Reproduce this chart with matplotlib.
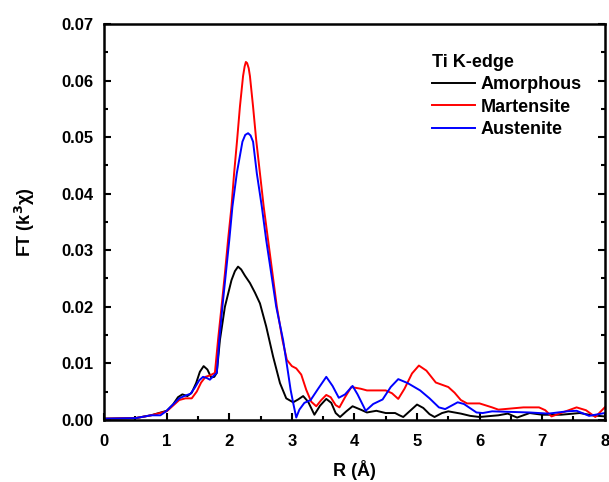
import numpy as np
import matplotlib
matplotlib.use("Agg")
from matplotlib import pyplot as plt
from matplotlib.ticker import MultipleLocator, FormatStrFormatter

# Ti K-edge FT data
r_amorph = [0.0, 0.5, 0.75, 1.0, 1.1, 1.18, 1.25, 1.33, 1.4, 1.47, 1.53, 1.59, 1.65, 1.71,
            1.76, 1.80, 1.85, 1.93, 2.035, 2.09, 2.14, 2.19, 2.25, 2.33, 2.41, 2.49, 2.59,
            2.70, 2.81, 2.91, 3.02, 3.1, 3.18, 3.26, 3.36, 3.45, 3.55, 3.63, 3.70, 3.77,
            3.87, 3.97, 4.1, 4.2, 4.35, 4.5, 4.65, 4.72, 4.78, 4.88, 5.0, 5.1, 5.2, 5.28,
            5.4, 5.5, 5.7, 5.85, 6.0, 6.3, 6.45, 6.6, 6.8, 7.0, 7.3, 7.6, 7.8, 8.0]
ft_amorph = [0.0002, 0.0003, 0.0008, 0.0016, 0.0027, 0.0040, 0.0045, 0.0042, 0.0048, 0.0065,
             0.0085, 0.0095, 0.0089, 0.0075, 0.0076, 0.0083, 0.0141, 0.0200, 0.0247, 0.0263,
             0.0271, 0.0266, 0.0255, 0.0242, 0.0225, 0.0206, 0.0165, 0.0112, 0.0065, 0.0038,
             0.0031, 0.0036, 0.0042, 0.0032, 0.0009, 0.0025, 0.0037, 0.0030, 0.0012, 0.0005,
             0.0015, 0.0024, 0.0018, 0.0013, 0.0016, 0.0012, 0.0012, 0.0008, 0.0005, 0.0015,
             0.0027, 0.0021, 0.0010, 0.0005, 0.0012, 0.0015, 0.0011, 0.0007, 0.0005, 0.0008,
             0.0011, 0.0004, 0.0012, 0.0009, 0.0009, 0.0012, 0.0008, 0.0006]

r_mart = [0.0, 0.5, 0.75, 1.0, 1.1, 1.2, 1.3, 1.4, 1.48, 1.55, 1.62, 1.7, 1.77, 1.82, 1.876,
          1.93, 1.98, 2.035, 2.077, 2.125, 2.17, 2.22, 2.245, 2.265, 2.285, 2.31, 2.33, 2.38,
          2.43, 2.49, 2.55, 2.62, 2.69, 2.76, 2.85, 2.92, 3.0, 3.07, 3.15, 3.23, 3.31, 3.39,
          3.47, 3.55, 3.62, 3.70, 3.76, 3.85, 3.95, 4.1, 4.2, 4.5, 4.6, 4.7, 4.8, 4.92,
          5.03, 5.15, 5.3, 5.5, 5.6, 5.7, 5.8, 6.0, 6.2, 6.3, 6.5, 6.7, 6.95, 7.05, 7.15,
          7.3, 7.55, 7.7, 7.85, 8.0]
ft_mart = [0.0002, 0.0003, 0.0008, 0.0015, 0.0025, 0.0035, 0.0038, 0.0038, 0.0050, 0.0066,
           0.0076, 0.0079, 0.0083, 0.0141, 0.0200, 0.0259, 0.0318, 0.0377, 0.0436, 0.0495,
           0.0554, 0.0608, 0.0625, 0.0633, 0.0631, 0.0622, 0.0608, 0.0554, 0.0495, 0.0436,
           0.0377, 0.0318, 0.0259, 0.0200, 0.0141, 0.0106, 0.0095, 0.0091, 0.0080, 0.0053,
           0.0032, 0.0024, 0.0035, 0.0044, 0.0040, 0.0026, 0.0022, 0.0040, 0.0058, 0.0055,
           0.0052, 0.0052, 0.0047, 0.0037, 0.0055, 0.0082, 0.0096, 0.0087, 0.0066, 0.0058,
           0.0048, 0.0035, 0.0029, 0.0029, 0.0022, 0.0018, 0.0020, 0.0022, 0.0022, 0.0017,
           0.0006, 0.0012, 0.0022, 0.0017, 0.0005, 0.0022]

r_aust = [0.0, 0.5, 0.75, 0.9, 1.0, 1.1, 1.2, 1.3, 1.38, 1.45, 1.52, 1.58, 1.64, 1.69, 1.75,
          1.80, 1.84, 1.89, 1.945, 2.0, 2.05, 2.12, 2.21, 2.255, 2.30, 2.34, 2.38, 2.44,
          2.52, 2.59, 2.67, 2.75, 2.86, 2.94, 2.98, 3.03, 3.07, 3.12, 3.2, 3.3, 3.42, 3.55,
          3.65, 3.75, 3.85, 3.97, 4.05, 4.18, 4.3, 4.45, 4.58, 4.7, 4.85, 5.05, 5.2, 5.35,
          5.45, 5.65, 5.75, 5.95, 6.05, 6.2, 6.5, 6.8, 7.1, 7.4, 7.55, 7.75, 8.0]
ft_aust = [0.0002, 0.0003, 0.0008, 0.0008, 0.0016, 0.0027, 0.0038, 0.0043, 0.0046, 0.0057,
           0.0070, 0.0076, 0.0074, 0.0071, 0.0078, 0.0083, 0.0141, 0.0200, 0.0259, 0.0318,
           0.0377, 0.0436, 0.0492, 0.0504, 0.0507, 0.0503, 0.0492, 0.0436, 0.0377, 0.0318,
           0.0259, 0.0200, 0.0141, 0.0083, 0.0053, 0.0025, 0.0004, 0.0018, 0.0030, 0.0035,
           0.0055, 0.0076, 0.0060, 0.0039, 0.0045, 0.0060, 0.0045, 0.0016, 0.0028, 0.0036,
           0.0058, 0.0072, 0.0065, 0.0052, 0.0038, 0.0022, 0.0019, 0.0031, 0.0028, 0.0013,
           0.0012, 0.0015, 0.0014, 0.0013, 0.0011, 0.0015, 0.0016, 0.0007, 0.0012]

plt.rcParams['font.family'] = ['Liberation Sans', 'DejaVu Sans']
plt.rcParams['font.weight'] = 'bold'

fig = plt.figure(figsize=(6.09, 4.82), dpi=100)
ax = fig.add_axes([0.171, 0.129, 0.822, 0.821])

ax.plot(r_amorph, ft_amorph, color='black', lw=1.4, label='Amorphous')
ax.plot(r_mart, ft_mart, color='#ff0000', lw=1.4, label='Martensite')
ax.plot(r_aust, ft_aust, color='#0000ff', lw=1.4, label='Austenite')

ax.set_xlim(0, 8)
ax.set_ylim(0, 0.07)
ax.xaxis.set_major_locator(MultipleLocator(1))
ax.xaxis.set_minor_locator(MultipleLocator(0.5))
ax.yaxis.set_major_locator(MultipleLocator(0.01))
ax.yaxis.set_minor_locator(MultipleLocator(0.005))
ax.yaxis.set_major_formatter(FormatStrFormatter('%.2f'))

ax.tick_params(which='both', direction='in', width=1.5, labelsize=12,
               right=True, top=False)
ax.tick_params(which='major', length=5)
ax.tick_params(which='minor', length=3)
ax.tick_params(axis='x', pad=10)
ax.tick_params(axis='y', pad=8)
for s in ax.spines.values():
    s.set_linewidth(1.8)

ax.set_xlabel('R (Å)', fontsize=13, fontweight='bold', labelpad=8)
ax.set_ylabel('FT (k$^{3}$χ)', fontsize=13, fontweight='bold', labelpad=17)

leg = ax.legend(title='Ti K-edge', loc='upper left', bbox_to_anchor=(0.636, 0.948),
                frameon=False, fontsize=13, handlelength=2.4, handletextpad=0.3,
                labelspacing=0.3, alignment='left', borderpad=0)
leg.get_title().set_fontsize(13)
leg.get_title().set_fontweight('bold')

plt.savefig('out.png', dpi=100)
